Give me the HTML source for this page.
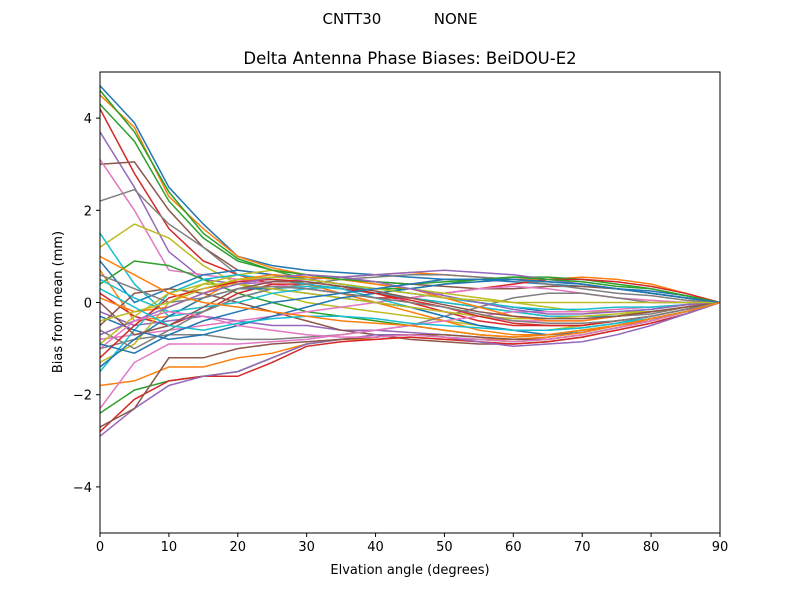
<!DOCTYPE html>
<html><head><meta charset="utf-8">
<style>
html,body{margin:0;padding:0;background:#fff;}
svg{display:block;font-family:"DejaVu Sans","Liberation Sans",sans-serif;}
</style></head>
<body>
<svg id="chart" width="800" height="600" viewBox="0 0 800 600" xmlns="http://www.w3.org/2000/svg">
<rect width="800" height="600" fill="#fff"/>
<text x="400" y="24" text-anchor="middle" font-size="15" xml:space="preserve">CNTT30           NONE</text>
<text x="410" y="64" text-anchor="middle" font-size="16.5">Delta Antenna Phase Biases: BeiDOU-E2</text>
<g id="plot"></g>
<g id="axes"></g>
<text x="410" y="574" text-anchor="middle" font-size="13">Elvation angle (degrees)</text>
<text transform="translate(62,302) rotate(-90)" text-anchor="middle" font-size="13">Bias from mean (mm)</text>
</svg>
<script>
const elevations = [0,5,10,15,20,25,30,35,40,45,50,55,60,65,70,75,80,85,90];
const xTicks = [0,10,20,30,40,50,60,70,80,90];
const yTicks = [-4,-2,0,2,4];
const s1 = [4.7,3.9,2.5,1.7,1.0,0.8,0.7,0.65,0.6,0.55,0.5,0.5,0.45,0.4,0.35,0.3,0.25,0.15,0];
const s2 = [4.5,3.8,2.3,1.6,1.0,0.75,0.6,0.55,0.6,0.65,0.6,0.55,0.5,0.5,0.55,0.5,0.4,0.2,0];
const s3 = [4.3,3.5,2.2,1.4,0.9,0.7,0.5,0.4,0.3,0.3,0.4,0.5,0.55,0.55,0.5,0.4,0.3,0.15,0];
const s4 = [4.2,2.8,1.6,0.9,0.6,0.4,0.3,0.2,0.1,0.1,0.2,0.3,0.4,0.5,0.5,0.45,0.35,0.2,0];
const s5 = [3.7,2.5,1.1,0.5,0.4,0.45,0.5,0.55,0.6,0.65,0.7,0.65,0.6,0.5,0.4,0.3,0.2,0.1,0];
const s6 = [3.0,3.05,2.0,1.2,0.7,0.6,0.55,0.5,0.45,0.4,0.35,0.3,0.3,0.35,0.35,0.3,0.2,0.1,0];
const s7 = [3.1,2.0,0.7,0.6,0.5,0.4,0.3,0.2,0.0,-0.1,-0.2,-0.3,-0.4,-0.4,-0.4,-0.3,-0.2,-0.1,0];
const s8 = [2.2,2.45,1.7,1.2,0.6,0.5,0.4,0.3,0.2,0.1,0.0,-0.1,-0.2,-0.3,-0.3,-0.3,-0.25,-0.1,0];
const s9 = [1.2,1.7,1.4,0.8,0.4,0.2,0.0,-0.1,-0.2,-0.3,-0.4,-0.5,-0.6,-0.6,-0.5,-0.4,-0.3,-0.15,0];
const s10 = [1.5,0.4,-0.3,-0.2,0.1,0.3,0.35,0.3,0.2,0.1,0.0,-0.1,-0.2,-0.3,-0.3,-0.3,-0.2,-0.1,0];
const s11 = [0.9,0.0,0.3,0.6,0.7,0.6,0.5,0.4,0.3,0.2,0.1,0.0,-0.1,-0.2,-0.2,-0.2,-0.15,-0.05,0];
const s12 = [0.7,-0.4,-0.3,0.1,0.5,0.5,0.4,0.2,0.0,-0.2,-0.4,-0.6,-0.7,-0.7,-0.6,-0.5,-0.4,-0.2,0];
const s13 = [0.4,0.9,0.8,0.5,0.2,0.0,-0.2,-0.3,-0.4,-0.5,-0.6,-0.7,-0.75,-0.7,-0.6,-0.5,-0.35,-0.2,0];
const s14 = [0.2,-0.3,-0.5,-0.2,0.2,0.4,0.4,0.3,0.2,0.0,-0.2,-0.4,-0.5,-0.5,-0.5,-0.4,-0.3,-0.15,0];
const s15 = [-0.2,-0.5,-0.4,-0.3,-0.4,-0.5,-0.5,-0.6,-0.6,-0.65,-0.7,-0.75,-0.8,-0.75,-0.65,-0.5,-0.35,-0.2,0];
const s16 = [-0.5,0.2,0.3,0.2,0.0,-0.2,-0.4,-0.6,-0.7,-0.8,-0.85,-0.9,-0.9,-0.85,-0.75,-0.6,-0.45,-0.25,0];
const s17 = [-0.8,-0.7,-0.6,-0.5,-0.4,-0.3,-0.2,-0.1,0.0,0.1,0.2,0.3,0.35,0.3,0.2,0.1,0.05,0.0,0];
const s18 = [-1.0,-0.8,-0.7,-0.7,-0.8,-0.8,-0.75,-0.7,-0.6,-0.5,-0.3,-0.1,0.1,0.2,0.2,0.1,0.0,0.0,0];
const s19 = [-1.3,-0.9,0.0,0.4,0.6,0.7,0.6,0.5,0.4,0.3,0.2,0.1,0.0,-0.1,-0.2,-0.2,-0.2,-0.1,0];
const s20 = [-1.5,-0.6,0.2,0.5,0.6,0.5,0.4,0.3,0.1,-0.1,-0.3,-0.5,-0.6,-0.6,-0.55,-0.45,-0.3,-0.15,0];
const s21 = [-1.4,-0.8,-0.3,0.1,0.3,0.3,0.2,0.1,0.0,-0.1,-0.3,-0.5,-0.6,-0.7,-0.65,-0.5,-0.35,-0.2,0];
const s22 = [-1.8,-1.7,-1.4,-1.4,-1.2,-1.1,-0.9,-0.8,-0.8,-0.75,-0.8,-0.8,-0.8,-0.75,-0.65,-0.5,-0.35,-0.2,0];
const s23 = [-2.4,-1.9,-1.7,-1.6,-1.5,-1.2,-0.9,-0.8,-0.75,-0.7,-0.75,-0.8,-0.85,-0.8,-0.7,-0.55,-0.4,-0.2,0];
const s24 = [-2.8,-2.1,-1.7,-1.6,-1.6,-1.3,-0.95,-0.85,-0.8,-0.75,-0.8,-0.85,-0.9,-0.85,-0.75,-0.6,-0.45,-0.25,0];
const s25 = [-2.9,-2.3,-1.8,-1.6,-1.5,-1.2,-0.9,-0.8,-0.7,-0.7,-0.75,-0.85,-0.95,-0.9,-0.85,-0.7,-0.5,-0.25,0];
const s26 = [-2.7,-2.3,-1.2,-1.2,-1.0,-0.9,-0.85,-0.8,-0.75,-0.7,-0.7,-0.75,-0.8,-0.8,-0.7,-0.55,-0.4,-0.2,0];
const s27 = [-2.3,-1.3,-0.9,-0.9,-0.9,-0.85,-0.8,-0.7,-0.6,-0.5,-0.4,-0.3,-0.2,-0.2,-0.2,-0.15,-0.1,-0.05,0];
const s28 = [-0.6,-1.0,-0.6,-0.2,0.1,0.3,0.4,0.5,0.55,0.6,0.6,0.55,0.5,0.4,0.3,0.2,0.15,0.05,0];
const s29 = [-0.9,-0.3,0.2,0.4,0.4,0.3,0.2,0.1,0.0,-0.1,-0.2,-0.3,-0.35,-0.35,-0.3,-0.25,-0.2,-0.1,0];
const s30 = [0.5,0.1,-0.2,-0.1,0.0,0.2,0.3,0.35,0.3,0.2,0.1,0.0,-0.1,-0.15,-0.15,-0.1,-0.1,-0.05,0];
const s31 = [-0.3,-0.6,-0.8,-0.7,-0.5,-0.3,-0.1,0.1,0.2,0.3,0.4,0.45,0.5,0.45,0.4,0.3,0.2,0.1,0];
const s32 = [0.1,-0.2,-0.1,0.2,0.5,0.6,0.55,0.5,0.4,0.3,0.1,-0.1,-0.3,-0.4,-0.4,-0.3,-0.2,-0.1,0];
const s33 = [4.6,3.7,2.4,1.5,0.95,0.7,0.6,0.5,0.45,0.4,0.45,0.5,0.55,0.5,0.45,0.35,0.3,0.15,0];
const s34 = [-1.2,-0.5,0.1,0.3,0.45,0.5,0.45,0.35,0.2,0.05,-0.1,-0.3,-0.45,-0.5,-0.5,-0.4,-0.3,-0.15,0];
const s35 = [-0.7,-0.4,-0.1,0.2,0.4,0.55,0.6,0.55,0.45,0.3,0.15,0.0,-0.15,-0.25,-0.25,-0.2,-0.15,-0.05,0];
const s36 = [0.0,-0.7,-0.5,-0.1,0.3,0.45,0.45,0.35,0.25,0.1,-0.05,-0.2,-0.3,-0.35,-0.35,-0.3,-0.2,-0.1,0];
const s37 = [-1.0,-0.4,-0.2,-0.3,-0.5,-0.6,-0.7,-0.75,-0.75,-0.7,-0.75,-0.8,-0.85,-0.8,-0.7,-0.55,-0.4,-0.2,0];
const s38 = [0.6,0.3,0.0,0.1,0.3,0.35,0.3,0.2,0.1,0.0,-0.1,-0.25,-0.4,-0.45,-0.45,-0.4,-0.3,-0.15,0];
const s39 = [-0.4,-0.2,0.0,0.3,0.5,0.55,0.5,0.4,0.3,0.2,0.1,0.05,0.0,0.0,0.0,0.0,0.0,0.0,0];
const s40 = [0.3,-0.1,-0.5,-0.6,-0.45,-0.35,-0.3,-0.3,-0.35,-0.45,-0.5,-0.55,-0.6,-0.6,-0.55,-0.45,-0.35,-0.2,0];
const s41 = [-0.9,-1.1,-0.7,-0.4,-0.2,0.0,0.1,0.2,0.3,0.4,0.5,0.5,0.5,0.45,0.4,0.3,0.2,0.1,0];
const s42 = [1.0,0.6,0.2,0.0,-0.1,-0.2,-0.3,-0.4,-0.45,-0.5,-0.6,-0.7,-0.75,-0.7,-0.6,-0.5,-0.35,-0.2,0];
const series = [s1,s2,s3,s4,s5,s6,s7,s8,s9,s10,s11,s12,s13,s14,s15,s16,s17,s18,s19,s20,s21,s22,s23,s24,s25,s26,s27,s28,s29,s30,s31,s32,s33,s34,s35,s36,s37,s38,s39,s40,s41,s42];
const palette = ["#1f77b4","#ff7f0e","#2ca02c","#d62728","#9467bd","#8c564b","#e377c2","#7f7f7f","#bcbd22","#17becf"];

const NS = "http://www.w3.org/2000/svg";
const L = 100, R = 720, T = 72, B = 533;
const xMin = 0, xMax = 90, yMin = -5, yMax = 5;
function xs(v){ return L + (v - xMin) / (xMax - xMin) * (R - L); }
function ys(v){ return B - (v - yMin) / (yMax - yMin) * (B - T); }

const plot = document.getElementById('plot');
const axes = document.getElementById('axes');
const defs = document.createElementNS(NS, 'defs');
defs.innerHTML = '<clipPath id="clip"><rect x="100" y="72" width="620" height="461"/></clipPath>';
document.getElementById('chart').appendChild(defs);
plot.setAttribute('clip-path', 'url(#clip)');

series.forEach(function(vals, i){
  const p = document.createElementNS(NS, 'polyline');
  p.setAttribute('points', vals.map(function(v, j){ return xs(elevations[j]).toFixed(1) + ',' + ys(v).toFixed(1); }).join(' '));
  p.setAttribute('fill', 'none');
  p.setAttribute('stroke', palette[i % palette.length]);
  p.setAttribute('stroke-width', '1.5');
  
  
  plot.appendChild(p);
});

const frame = document.createElementNS(NS, 'rect');
frame.setAttribute('x', L); frame.setAttribute('y', T);
frame.setAttribute('width', R - L); frame.setAttribute('height', B - T);
frame.setAttribute('fill', 'none'); frame.setAttribute('stroke', '#000'); frame.setAttribute('stroke-width', '1');


axes.appendChild(frame);

xTicks.forEach(function(t){
  const x = xs(t);
  const ln = document.createElementNS(NS, 'line');
  ln.setAttribute('x1', x); ln.setAttribute('x2', x); ln.setAttribute('y1', B); ln.setAttribute('y2', B + 4);
  ln.setAttribute('stroke', '#000');
  
  
  axes.appendChild(ln);
  const tx = document.createElementNS(NS, 'text');
  tx.setAttribute('x', x); tx.setAttribute('y', B + 18); tx.setAttribute('text-anchor', 'middle'); tx.setAttribute('font-size', '13');
  tx.textContent = t;
  
  
  axes.appendChild(tx);
});
yTicks.forEach(function(t){
  const y = ys(t);
  const ln = document.createElementNS(NS, 'line');
  ln.setAttribute('x1', L - 4); ln.setAttribute('x2', L); ln.setAttribute('y1', y); ln.setAttribute('y2', y);
  ln.setAttribute('stroke', '#000');
  
  
  axes.appendChild(ln);
  const tx = document.createElementNS(NS, 'text');
  tx.setAttribute('x', L - 8); tx.setAttribute('y', y + 5); tx.setAttribute('text-anchor', 'end'); tx.setAttribute('font-size', '13');
  tx.textContent = t < 0 ? '\u2212' + Math.abs(t) : String(t);
  
  
  axes.appendChild(tx);
});
</script>
</body></html>
